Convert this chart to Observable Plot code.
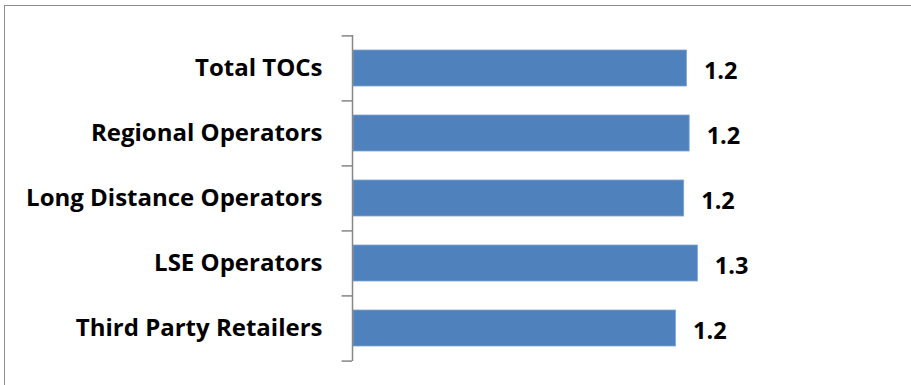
<!DOCTYPE html>
<html>
<head>
<meta charset="utf-8">
<script src="https://cdn.jsdelivr.net/npm/d3@7"></script>
<script src="https://cdn.jsdelivr.net/npm/@observablehq/plot@0.6"></script>
<style>
  html, body { margin: 0; padding: 0; background: #fff; overflow: hidden; }
  #wrap { position: relative; width: 911px; height: 385px; overflow: hidden; }
  #frame { position: absolute; left: 4px; top: 5px; width: 2000px; height: 2000px;
           border-left: 1.5px solid #8e8e8e; border-top: 1.5px solid #8e8e8e; }
  #chart { position: absolute; left: 0; top: 0; }
</style>
</head>
<body>
<div id="wrap"><div id="frame"></div><div id="chart"></div></div>
<script>
const categories = ["Total TOCs", "Regional Operators", "Long Distance Operators", "LSE Operators", "Third Party Retailers"];
const values = [1.22, 1.23, 1.21, 1.26, 1.18];
const valueLabels = ["1.2", "1.2", "1.2", "1.3", "1.2"];

const data = categories.map((c, i) => ({category: c, value: values[i], label: valueLabels[i]}));

const W = 911, H = 385;
const mTop = 35, mBottom = 24, mLeft = 353;
const step = (H - mTop - mBottom) / categories.length;
const font = "'Open Sans', Lato, sans-serif";

const chart = Plot.plot({
  width: W,
  height: H,
  marginTop: mTop,
  marginBottom: mBottom,
  marginLeft: mLeft,
  marginRight: 11.4,
  style: {fontFamily: font, background: "transparent"},
  x: {domain: [0, 2], axis: null},
  y: {domain: categories, paddingInner: 0.448, paddingOuter: 0.224, label: null},
  marks: [
    Plot.barX(data, {x: "value", y: "category", fill: "#4F81BD", stroke: "#7FA3D0", strokeWidth: 0.8}),
    Plot.ruleX([0], {stroke: "#868686", strokeWidth: 1.5, dx: -1}),
    Plot.ruleY(categories, {y: d => d, x1: -0.038, x2: 0, dx: -1, dy: -step / 2, stroke: "#868686", strokeWidth: 1.5}),
    Plot.ruleY(categories.slice(-1), {y: d => d, x1: -0.038, x2: 0, dx: -1, dy: step / 2, stroke: "#868686", strokeWidth: 1.5}),
    Plot.axisY({tickSize: 0, tickPadding: 31, fontSize: 24, fontWeight: "bold", fill: "#000", label: null}),
    Plot.text(data, {x: "value", y: "category", text: "label", dx: 17, dy: 3, textAnchor: "start",
      fontSize: 23.5, fontWeight: "bold", fill: "#000"})
  ]
});
document.getElementById("chart").appendChild(chart);
</script>
</body>
</html>
